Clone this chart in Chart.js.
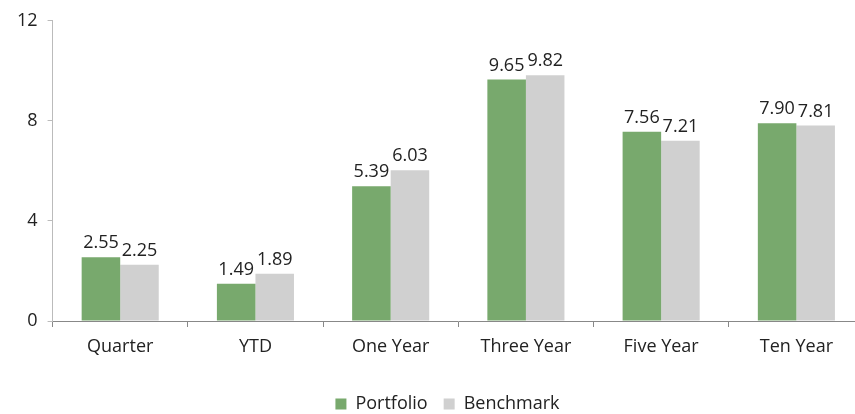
<!DOCTYPE html>
<html>
<head>
<meta charset="utf-8">
<script src="https://cdn.jsdelivr.net/npm/chart.js@4"></script>
<style>
  html, body { margin: 0; padding: 0; background: #fff; overflow: hidden; }
  #wrap { width: 864px; height: 414px; }
</style>
</head>
<body>
<div id="wrap"><canvas id="grafico"></canvas></div>
<script>
const categorias = ["Quarter", "YTD", "One Year", "Three Year", "Five Year", "Ten Year"];
const portfolio = [2.55, 1.49, 5.39, 9.65, 7.56, 7.90];
const benchmark = [2.25, 1.89, 6.03, 9.82, 7.21, 7.81];
const ticksY = [0, 4, 8, 12];

const fuente = "Open Sans, Liberation Sans, sans-serif";

// etiquetas de valor encima de cada barra
const etiquetas = {
    id: "etiquetas",
    afterDatasetsDraw(chart) {
        const ctx = chart.ctx;
        ctx.save();
        ctx.font = "18px " + fuente;
        ctx.fillStyle = "#222";
        ctx.textAlign = "center";
        ctx.textBaseline = "bottom";
        chart.data.datasets.forEach((ds, i) => {
            chart.getDatasetMeta(i).data.forEach((bar, j) => {
                ctx.fillText(ds.data[j].toFixed(2), bar.x, bar.y - 5);
            });
        });
        ctx.restore();
    },
};

// la leyenda va un poco a la derecha, centrada bajo el area del grafico
const moverLeyenda = {
    id: "moverLeyenda",
    afterLayout(chart) {
        chart.legend.left += 12;
        chart.legend.right += 12;
    },
};

const config = {
    type: "bar",
    data: {
        labels: categorias,
        datasets: [
            {
                label: "Portfolio",
                backgroundColor: "#78A96D",
                data: portfolio,
            },
            {
                label: "Benchmark",
                backgroundColor: "#D0D0D0",
                data: benchmark,
            },
        ],
    },
    options: {
        responsive: true,
        maintainAspectRatio: false,
        animation: false,
        layout: { padding: { top: 5, right: 0, left: 7, bottom: -9 } },
        datasets: {
            bar: { categoryPercentage: 0.57, barPercentage: 1.0 },
        },
        plugins: {
            legend: {
                position: "bottom",
                title: {
                    display: true,
                    text: "",
                    font: { size: 2 },
                    padding: { top: 5, bottom: 5 },
                },
                labels: {
                    boxWidth: 11,
                    boxHeight: 11,
                    padding: 16,
                    color: "#222",
                    font: { size: 18, family: fuente },
                },
            },
            tooltip: { enabled: false },
        },
        scales: {
            x: {
                grid: {
                    display: true,
                    drawOnChartArea: false,
                    drawTicks: true,
                    tickLength: 6,
                    offset: true,
                    color: "#888",
                },
                border: { color: "#888" },
                ticks: {
                    color: "#222",
                    padding: 9,
                    font: { size: 18, family: fuente },
                },
            },
            y: {
                min: 0,
                max: 12,
                afterBuildTicks: (axis) => {
                    axis.ticks = ticksY.map((v) => ({ value: v }));
                },
                grid: {
                    drawOnChartArea: false,
                    drawTicks: true,
                    tickLength: 5,
                    color: "#bbb",
                },
                border: { color: "#bbb" },
                ticks: {
                    color: "#222",
                    padding: 10,
                    font: { size: 18, family: fuente },
                },
            },
        },
    },
    plugins: [etiquetas, moverLeyenda],
};

const chart = new Chart(document.getElementById("grafico"), config);
</script>
</body>
</html>
